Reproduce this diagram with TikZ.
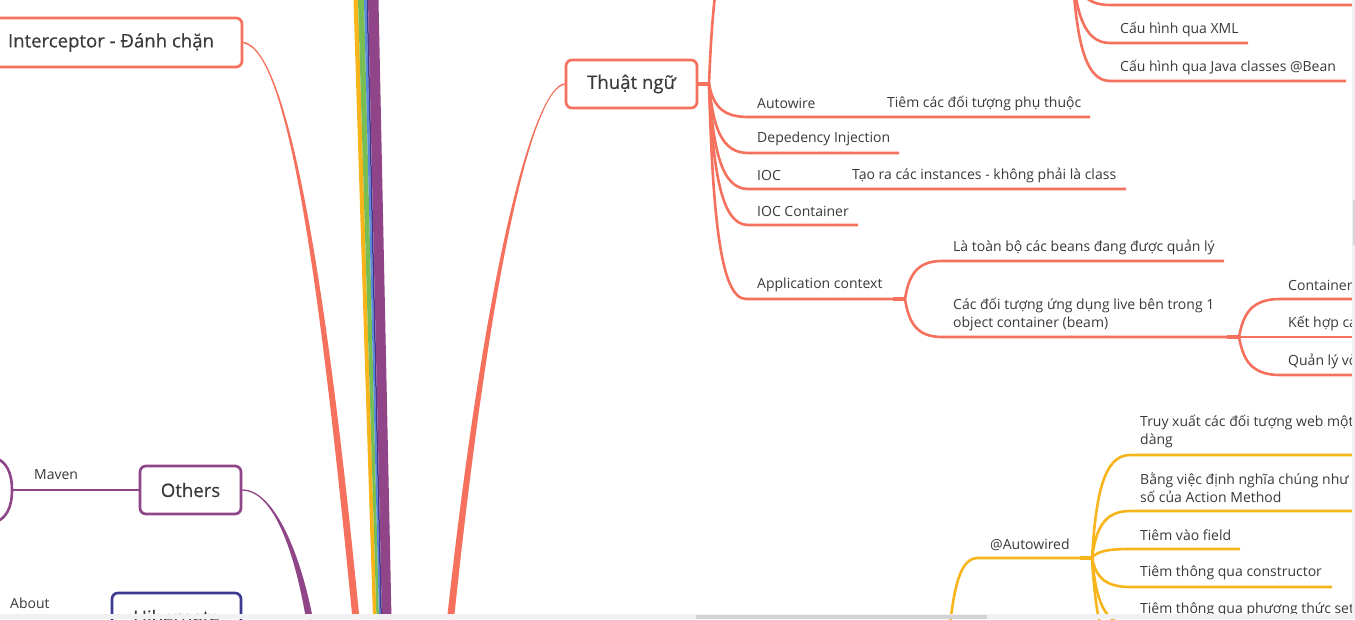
\documentclass[tikz,border=0pt]{standalone}
\usepackage{fontspec}
\setmainfont{Open Sans}
\newfontfamily\nodefont[FakeBold=0.35]{Open Sans}
\usetikzlibrary{calc,backgrounds}
\definecolor{cor}{HTML}{F5715D}
\definecolor{yel}{HTML}{F8B41B}
\definecolor{grn}{HTML}{78BE52}
\definecolor{blu}{HTML}{5A8CDB}
\definecolor{ind}{HTML}{3D3A92}
\definecolor{pur}{HTML}{8F4587}
\definecolor{txt}{HTML}{3A3A3A}
\definecolor{sbtrack}{HTML}{F1F1F4}
\definecolor{sbthumb}{HTML}{D4D4D6}
\tikzset{
 lbl/.style={font=\fontsize{14}{18}\selectfont, text=txt, inner sep=0pt, anchor=west, align=left},
 box/.style={draw, line width=2.7pt, rounded corners=6pt, fill=white, inner sep=0pt, text=txt, font=\nodefont\fontsize{18.6}{22}\selectfont},
 br/.style={line width=2.6pt},
 stub/.style={line width=4pt},
 branch/.style={to path={let \p1=(\tikztostart), \p2=(\tikztotarget) in .. controls ({\x1+0.1*(\x2-\x1)},{\y1+0.6*(\y2-\y1)}) and ({\x1+0.3*(\x2-\x1)},{\y2}) .. (\tikztotarget)}},
}
\begin{document}
\begin{tikzpicture}[x=1pt,y=-1pt]
\useasboundingbox (0,0) rectangle (1355,619);
\clip (0,0) rectangle (1355,619);

% ---------- nodes ----------
\node[box, draw=cor, minimum width=262, minimum height=49] (intc) at (111,42.5) {Interceptor - Đánh chặn};
\node[box, draw=cor, minimum width=131, minimum height=48] (tn) at (631.5,84) {Thuật ngữ};
\node[box, draw=pur, minimum width=101, minimum height=48] (oth) at (190.5,490) {Others};
\node[box, draw=ind, minimum width=129, minimum height=48] (hib) at (176.5,617) {Hibernate};

% labels of Thuat ngu
\node[lbl] (aw) at (757,103) {Autowire};
\node[lbl] (awd) at (887,103) {Tiêm các đối tượng phụ thuộc};
\node[lbl] (di) at (757,138.5) {Depedency Injection};
\node[lbl] (ioc) at (757,175) {IOC};
\node[lbl] (iocd) at (852,175) {Tạo ra các instances - không phải là class};
\node[lbl] (iocc) at (757,211) {IOC Container};
\node[lbl] (ac) at (757,285) {Application context};
\node[lbl] (ac1) at (953,247) {Là toàn bộ các beans đang được quản lý};
\node[lbl] (ac2) at (953,314) {Các đối tượng ứng dụng live bên trong 1\\object container (beam)};
\node[lbl] (c1) at (1288,285) {Container};
\node[lbl] (c2) at (1288,323) {Kết hợp cá};
\node[lbl] (c3) at (1288,361) {Quản lý vò};
% top right
\node[lbl] (xml) at (1120,29) {Cấu hình qua XML};
\node[lbl] (jav) at (1120,67) {Cấu hình qua Java classes @Bean};
% yellow
\node[lbl] (atw) at (990,545) {@Autowired};
\node[lbl] (y1) at (1140,431) {Truy xuất các đối tượng web một\\dàng};
\node[lbl] (y2) at (1140,488) {Bằng việc định nghĩa chúng như\\số của Action Method};
\node[lbl] (y3) at (1140,535) {Tiêm vào field};
\node[lbl] (y4) at (1140,573) {Tiêm thông qua constructor};
\node[lbl] (y5) at (1140,610) {Tiêm thông qua phương thức set};
% left
\node[lbl] (mav) at (34,475) {Maven};
\node[lbl] (abt) at (10,603) {About};

% ---------- coordinates ----------
\coordinate (J1) at (709,84);
\coordinate (J1up) at (748,-80);
\coordinate (J4) at (905,299);
\coordinate (J5) at (1239,337);
\coordinate (J2) at (1072,-35);
\coordinate (J3) at (1092,558);
\coordinate (ybot) at (950,625);
\coordinate (mj) at (12,490);

\begin{scope}[on background layer]
\fill[white] (0,0) rectangle (1355,619);
% rainbow band
\fill[yel] (353.5,0) -- (358,0) -- (376.5,619) -- (373,619) -- cycle;
\fill[grn] (358,0) -- (364,0) -- (379,619) -- (376.5,619) -- cycle;
\fill[blu] (364,0) -- (366.5,0) -- (380.5,619) -- (379,619) -- cycle;
\fill[ind] (366.5,0) -- (368,0) -- (382,619) -- (380.5,619) -- cycle;
\fill[pur] (368,0) -- (378.5,0) -- (391.5,619) -- (382,619) -- cycle;

% tapered main connectors
\fill[cor] ($(intc.east)+(0,-0.8)$) .. controls (290,48.5) and (328.5,300) .. (359.5,619)
  -- (352.5,619) .. controls (321.5,300) and (290,51) .. ($(intc.east)+(0,0.8)$) -- cycle;
\fill[cor] ($(tn.west)+(0,-0.8)$) .. controls (535,87.2) and (487.5,250) .. (447,619)
  -- (454,619) .. controls (492.5,250) and (535,88.8) .. ($(tn.west)+(0,0.8)$) -- cycle;
\fill[pur] ($(oth.east)+(0,-0.7)$) .. controls (270,489.3) and (297.5,540) .. (313,619)
  -- (306,619) .. controls (292.5,540) and (270,490.7) .. ($(oth.east)+(0,0.7)$) -- cycle;

% Thuat ngu branches
\begin{scope}[draw=cor]
\draw[stub] (tn.east) -- (J1);
\draw[br] (J1) to[branch] (J1up);
\draw[br] (J1) to[branch] (748,117) -- (1090,117);
\draw[br] (J1) to[branch] (748,153) -- (899,153);
\draw[br] (J1) to[branch] (748,189) -- (1126,189);
\draw[br] (J1) to[branch] (748,225) -- (858,225);
\draw[br] (J1) to[branch] (746,299) -- (J4);
\draw[stub] (893,299) -- (J4);
\draw[br] (J4) to[branch] (942,261) -- (1224,261);
\draw[br] (J4) to[branch] (942,337) -- (J5);
\draw[stub] (1227,337) -- (J5);
\draw[br] (J5) to[branch] (1280,299) -- (1360,299);
\draw[br] (J5) -- (1360,337);
\draw[br] (J5) to[branch] (1280,375) -- (1360,375);
% top right
\draw[br] (J2) to[branch] (1110,5) -- (1360,5);
\draw[br] (J2) to[branch] (1110,43) -- (1248,43);
\draw[br] (J2) to[branch] (1110,81) -- (1346,81);
\end{scope}

% yellow branches
\begin{scope}[draw=yel]
\draw[br] (ybot) .. controls (955,580) and (962,558) .. (978,558) -- (J3);
\draw[stub] (1080,558) -- (J3);
\draw[br] (J3) to[branch] (1130,455) -- (1360,455);
\draw[br] (J3) to[branch] (1130,511) -- (1360,511);
\draw[br] (J3) to[branch] (1130,549) -- (1240,549);
\draw[br] (J3) to[branch] (1130,587) -- (1332,587);
\draw[br] (J3) to[branch] (1130,625) -- (1360,625);
\draw[br] (J3) to[branch] (1130,662) -- (1360,662);
\end{scope}

% Maven
\begin{scope}[draw=pur]
\draw[br] (oth.west) -- (mj);
\draw[br] (mj) .. controls (12,472) and (6,462) .. (-4,458);
\draw[br] (mj) .. controls (12,508) and (6,518) .. (-4,522);
\end{scope}
\end{scope}

% scrollbars
\fill[sbtrack] (0,614) rectangle (1355,619);
\fill[sbthumb] (696,614.5) rectangle (987,619);
\fill[sbtrack] (1352,0) rectangle (1355,614);
\fill[sbthumb] (1352.5,200) rectangle (1355,245);
\end{tikzpicture}
\end{document}
